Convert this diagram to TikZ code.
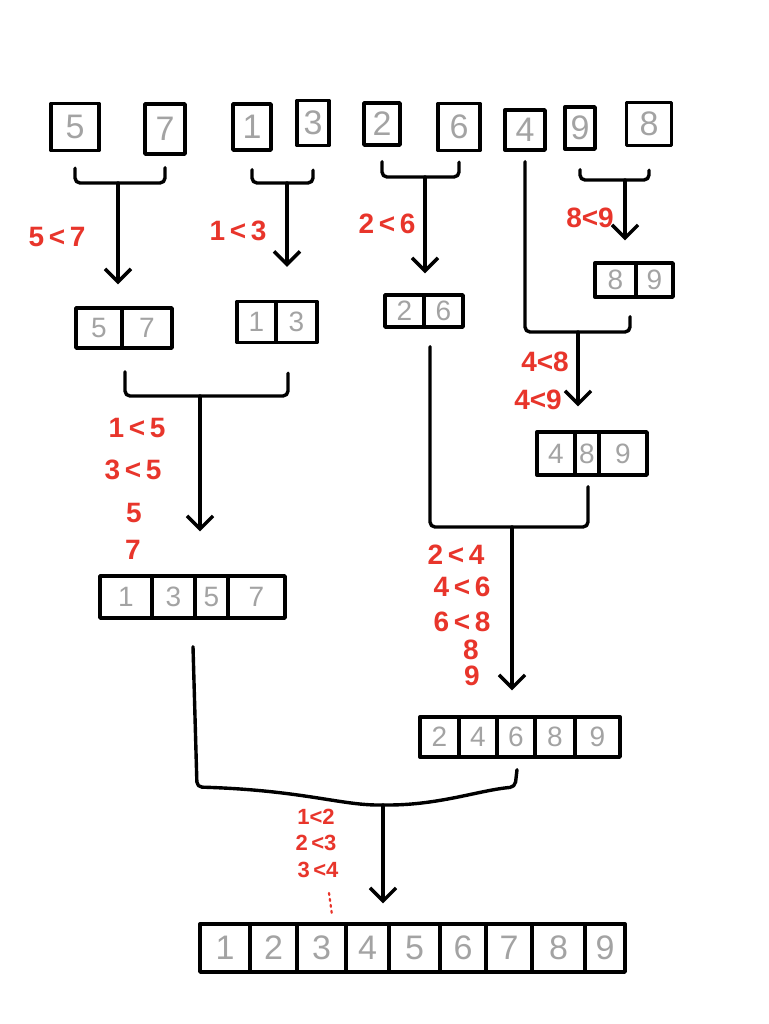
\documentclass[tikz,border=0pt]{standalone}
\usepackage{fontspec}
\setmainfont{Liberation Sans}
\usetikzlibrary{arrows.meta}
\definecolor{digitgray}{HTML}{A3A3A3}
\definecolor{markred}{HTML}{E8352B}
\tikzset{
  cell/.style={draw=black, line width=3.4pt, inner sep=0pt, text=digitgray,
    font=\fontsize{34}{34}\selectfont, line join=round},
  smallcell/.style={cell, font=\fontsize{28}{28}\selectfont},
  conn/.style={draw=black, line width=3.4pt, line cap=round, line join=round, rounded corners=5pt},
  arr/.style={conn, -{Straight Barb[length=13pt,width=26pt,line width=3.4pt]}},
  cmp/.style={text=markred, font=\bfseries\fontsize{28}{28}\selectfont, inner sep=0pt},
  cmpsmall/.style={cmp, font=\bfseries\fontsize{22}{22}\selectfont},
}
\begin{document}
\begin{tikzpicture}[x=1pt,y=-1pt]
\fill[white] (0,0) rectangle (768,1024);
\useasboundingbox (0,0) rectangle (768,1024);

% ---- top row
\node[cell, minimum width=48, minimum height=47] (t5) at (75,127) {5};
\node[cell, minimum width=40, minimum height=50] (t7) at (165,129) {7};
\node[cell, minimum width=38, minimum height=46] (t1) at (252,127) {1};
\node[cell, minimum width=32, minimum height=45] (t3) at (313,123) {3};
\node[cell, minimum width=36, minimum height=42] (t2) at (382,124) {2};
\node[cell, minimum width=42, minimum height=47] (t6) at (459,127) {6};
\node[cell, minimum width=40, minimum height=40] (t4) at (525,130) {4};
\node[cell, minimum width=30, minimum height=42] (t9) at (580,128) {9};
\node[cell, minimum width=45, minimum height=43] (t8) at (649,124) {8};

% ---- second row
\node[smallcell, minimum width=46, minimum height=40] (m5) at (99,328) {5};
\node[smallcell, minimum width=50, minimum height=40] (m7) at (147,328) {7};
\node[smallcell, minimum width=39, minimum height=41] (m1) at (256.5,322) {1};
\node[smallcell, minimum width=41, minimum height=41] (m3) at (296.5,322) {3};
\node[smallcell, minimum width=39, minimum height=32] (m2) at (404.5,311) {2};
\node[smallcell, minimum width=39, minimum height=32] (m6) at (443.5,311) {6};
\node[smallcell, minimum width=41, minimum height=34] (n8) at (615.5,280) {8};
\node[smallcell, minimum width=37, minimum height=34] (n9) at (654.5,280) {9};

\node[smallcell, minimum width=38, minimum height=43] (p4) at (556,453.5) {4};
\node[smallcell, minimum width=24, minimum height=43] (p8) at (587,453.5) {8};
\node[smallcell, minimum width=48, minimum height=43] (p9) at (623,453.5) {9};

% ---- third row
\node[smallcell, minimum width=52, minimum height=42] (q1) at (126,597) {1};
\node[smallcell, minimum width=43, minimum height=42] (q3) at (173.5,597) {3};
\node[smallcell, minimum width=33, minimum height=42] (q5) at (211.5,597) {5};
\node[smallcell, minimum width=57, minimum height=42] (q7) at (256.5,597) {7};

\node[smallcell, minimum width=39, minimum height=40] (r2) at (439.5,737) {2};
\node[smallcell, minimum width=38, minimum height=40] (r4) at (478,737) {4};
\node[smallcell, minimum width=38, minimum height=40] (r6) at (516,737) {6};
\node[smallcell, minimum width=40, minimum height=40] (r8) at (555,737) {8};
\node[smallcell, minimum width=45, minimum height=40] (r9) at (597.5,737) {9};

% ---- final row
\node[cell, minimum width=50, minimum height=48] (f1) at (225,948) {1};
\node[cell, minimum width=47, minimum height=48] (f2) at (273.5,948) {2};
\node[cell, minimum width=49, minimum height=48] (f3) at (321.5,948) {3};
\node[cell, minimum width=43, minimum height=48] (f4) at (367.5,948) {4};
\node[cell, minimum width=51, minimum height=48] (f5) at (414.5,948) {5};
\node[cell, minimum width=46, minimum height=48] (f6) at (463,948) {6};
\node[cell, minimum width=46, minimum height=48] (f7) at (509,948) {7};
\node[cell, minimum width=53, minimum height=48] (f8) at (558.5,948) {8};
\node[cell, minimum width=40, minimum height=48] (f9) at (605,948) {9};

% ---- connectors, level 1
\coordinate (k57) at (118,183);
\draw[conn] ([yshift=-16]t5.south) |- (k57) -| ([yshift=-12]t7.south);
\draw[arr] (k57) -- ([yshift=22]k57 |- m7.north);

\coordinate (k13) at (287,183);
\draw[conn] ([yshift=-18]t1.south) |- (k13) -| ([yshift=-23]t3.south);
\draw[arr] (k13) -- ([yshift=33]k13 |- m3.north);

\coordinate (k26) at (425,177);
\draw[conn] ([yshift=-15]t2.south) |- (k26) -| ([yshift=-10]t6.south);
\draw[arr] (k26) -- ([yshift=20]k26 |- m6.north);

\coordinate (k98) at (625,180);
\draw[conn] ([yshift=-19]t9.south) |- (k98) -| ([yshift=-23]t8.south);
\draw[arr] (k98) -- ([yshift=21]k98 |- n8.north);

% ---- 4 with 89
\coordinate (k489) at (578,332);
\draw[conn] ([yshift=-10]t4.south) |- (k489) -| ([yshift=-18]n8.south -| 630,0);
\draw[arr] (k489) -- ([yshift=24]k489 |- p8.north);

% ---- 57 with 13
\coordinate (k1357) at (200,396);
\draw[conn] ([yshift=-22]m5.south -| 125,0) |- (k1357) -| ([yshift=-29]m3.south -| 288,0);
\draw[arr] (k1357) -- ([yshift=43]k1357 |- q1.north);

% ---- 26 with 489
\coordinate (k24689) at (512,527);
\draw[conn] ([yshift=-18]m6.south -| 430,0) |- (k24689) -| ([yshift=-10]p8.south -| 588,0);
\draw[arr] (k24689) -- ([yshift=25]k24689 |- r6.north);

% ---- final merge
\coordinate (kfin) at (383,805);
\draw[conn] ([yshift=-27]q1.south -| 193,0) -- (197,787) .. controls (300,790) and (340,805) .. (kfin) .. controls (440,805) and (480,790) .. (515,787) -- ([yshift=-11]r6.south -| 517,0);
\draw[arr] (kfin) -- ([yshift=19]kfin |- f4.north);

% ---- comparison labels
\node[cmp] (c57) at (57,237) {5\,<\,7};
\node[cmp] (c13) at (238,231) {1\,<\,3};
\node[cmp] (c26) at (387,224) {2\,<\,6};
\node[cmp] (c89) at (590,218) {8<9};
\node[cmp] (c48) at (545,362) {4<8};
\node[cmp] (c49) at (538,400) {4<9};
\node[cmp] (c15) at (137,428) {1\,<\,5};
\node[cmp] (c35) at (133,470) {3\,<\,5};
\node[cmp] (c5) at (134,513) {5};
\node[cmp] (c7) at (133,550) {7};
\node[cmp] (c24) at (456,555) {2\,<\,4};
\node[cmp] (c46) at (462,587) {4\,<\,6};
\node[cmp] (c68) at (462,622) {6\,<\,8};
\node[cmp] (c8) at (471,650) {8};
\node[cmp] (c9) at (472,676) {9};
\node[cmpsmall] (c12) at (316,817) {1<2};
\node[cmpsmall] (c23) at (316,843) {2\,<3};
\node[cmpsmall] (c34) at (318,870) {3\,<4};
\coordinate (dA) at (329,893);
\coordinate (dB) at (332,915);
\draw[markred, line width=2.2pt, dash pattern=on 2pt off 4pt, line cap=round] (dA) -- (dB);
\end{tikzpicture}
\end{document}
